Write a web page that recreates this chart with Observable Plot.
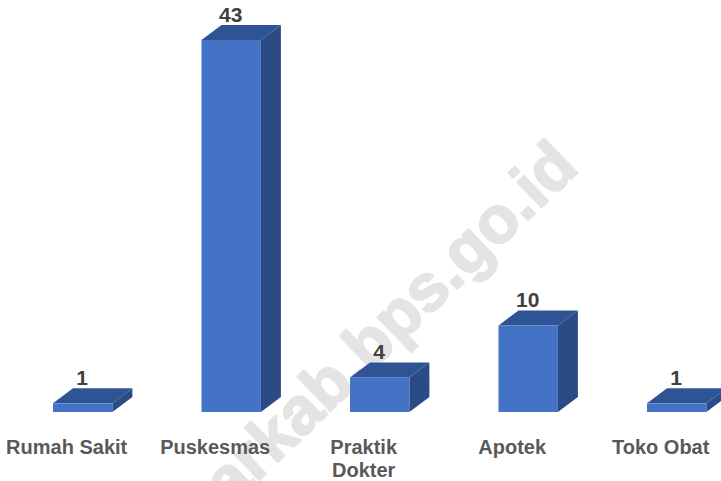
<!DOCTYPE html>
<html>
<head>
<meta charset="utf-8">
<style>html,body{margin:0;padding:0;background:#fff}svg{display:block}</style>
<script src="https://cdn.jsdelivr.net/npm/d3@7"></script>
<script src="https://cdn.jsdelivr.net/npm/@observablehq/plot@0.6"></script>
</head>
<body>
<div id="chart"></div>
<script>
const categories = ["Rumah Sakit", "Puskesmas", "Praktik\nDokter", "Apotek", "Toko Obat"];
const values = [1, 43, 4, 10, 1];
const watermark = ["arkab.bps.go.id"];
const rows = categories.map((c, i) => ({c, v: values[i]}));
const font = "Liberation Sans, Arial, sans-serif";
const depthX = 20, depthY = 15;

function extrude(index, scales, vals, dims, ctx, next) {
  const g = next(index, scales, vals, dims, ctx);
  const ns = "http://www.w3.org/2000/svg";
  for (const r of Array.from(g.querySelectorAll("rect"))) {
    const x = +r.getAttribute("x"), y = +r.getAttribute("y");
    const w = +r.getAttribute("width"), h = +r.getAttribute("height");
    const faces = [
      [[x + w, y], [x + w + depthX, y - depthY], [x + w + depthX, y + h - depthY], [x + w, y + h]], "#2b4b84",
      [[x, y], [x + depthX, y - depthY], [x + w + depthX, y - depthY], [x + w, y]], "#2f5496"
    ];
    for (let i = 0; i < faces.length; i += 2) {
      const p = document.createElementNS(ns, "polygon");
      p.setAttribute("points", faces[i].map(q => q.join(",")).join(" "));
      p.setAttribute("fill", faces[i + 1]);
      r.parentNode.insertBefore(p, r);
    }
  }
  return g;
}

const chart = Plot.plot({
  width: 721,
  height: 481,
  marginTop: 40,
  marginBottom: 69,
  marginLeft: 8,
  marginRight: 0,
  style: {fontFamily: font, background: "#fff", overflow: "hidden"},
  x: {domain: categories, range: [8.45, 750.95], round: false, paddingInner: 0.6, paddingOuter: 0.3, align: 0.5, label: null},
  y: {domain: [0, 43], axis: null},
  marks: [
    Plot.text(watermark, {
      text: d => d, frameAnchor: "top-left", dx: 364, dy: 265, rotate: -44,
      fontSize: 66, fontWeight: "bold", fill: "#e4e4e4", stroke: "#e4e4e4", strokeWidth: 2, textAnchor: "middle"
    }),
    Plot.barY(rows, {x: "c", y: "v", fill: "#4472c4", render: extrude}),
    Plot.text(rows, {
      x: "c", y: "v", text: d => String(d.v), dy: -19, dx: -1, lineAnchor: "bottom",
      fontSize: 21, fontWeight: "bold", fill: "#404040"
    }),
    Plot.axisX({
      tickSize: 0, tickPadding: 25, dx: -16.5, fontSize: 20, fontWeight: "bold",
      fill: "#595959", lineHeight: 1.15, label: null
    })
  ]
});
document.getElementById("chart").append(chart);
</script>
</body>
</html>
